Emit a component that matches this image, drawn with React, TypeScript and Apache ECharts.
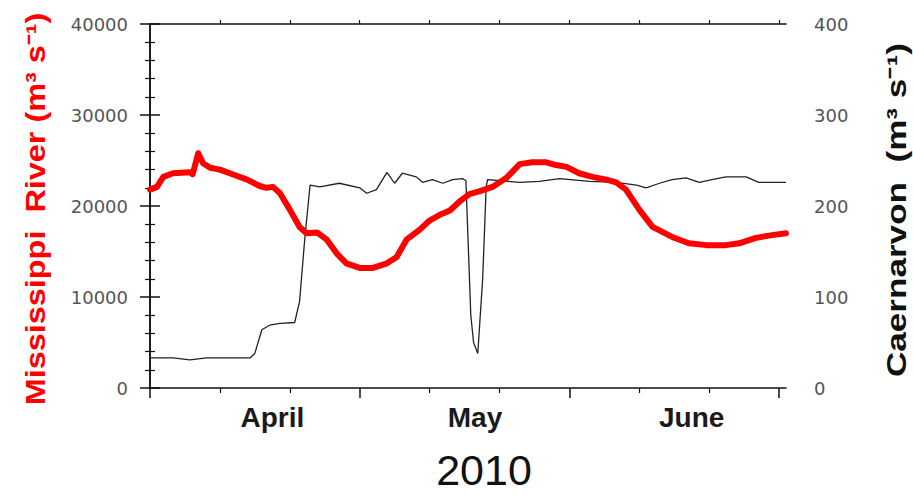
import React, { useEffect, useRef } from 'react';
import * as echarts from 'echarts';

// Mississippi River discharge (m3/s), days since 1 April 2010
const riverDays = [0, 1, 1.9, 3.3, 5.7, 6.1, 6.9, 7.6, 8.6, 10, 11.4, 13.9, 15.7, 16.7, 17.6, 18.6, 20, 21.4, 22.4, 23.9, 25.3, 26.7, 28.1, 30, 31.9, 33.9, 35.3, 36.7, 38.6, 40, 41.4, 42.9, 44.3, 45.7, 47.1, 49, 51, 52.9, 54.7, 56.7, 58.1, 59.6, 61.4, 63.3, 65.3, 66.7, 68.1, 70, 71.9, 74.7, 77.1, 79.6, 82.4, 84.3, 86.7, 89, 91];
const riverFlow = [21800, 22100, 23200, 23600, 23700, 23500, 25800, 24700, 24200, 24000, 23600, 22900, 22200, 22000, 22100, 21400, 19600, 17700, 17000, 17100, 16300, 14800, 13700, 13200, 13200, 13700, 14400, 16300, 17400, 18400, 19000, 19500, 20500, 21300, 21600, 22100, 23100, 24600, 24800, 24800, 24500, 24300, 23600, 23200, 22900, 22600, 21800, 19600, 17700, 16600, 15900, 15700, 15700, 15900, 16500, 16800, 17000];

// Caernarvon diversion discharge (m3/s)
const caernarvonDays = [0, 3.3, 5.7, 8.1, 14.3, 15, 16, 17.1, 18.6, 20.7, 21.4, 22.1, 22.9, 24.3, 27.1, 30, 31, 32.4, 33.9, 35, 36.1, 38.1, 39, 40.4, 41.9, 43.3, 44.7, 45.2, 45.9, 46.3, 46.9, 47.6, 48.1, 48.3, 52.9, 55.7, 58.6, 62.9, 66.7, 69.6, 71, 72.9, 74.7, 76.7, 78.6, 80.4, 82.4, 85.3, 87.1, 91];
const caernarvonFlow = [33, 33, 31, 33, 33, 38, 64, 69, 71, 72, 95, 160, 223, 221, 225, 220, 214, 218, 237, 225, 236, 232, 226, 229, 225, 229, 230, 228, 80, 50, 38, 120, 221, 229, 226, 227, 230, 227, 226, 223, 220, 225, 229, 231, 226, 229, 232, 232, 226, 226];

const monthNames = ['April', 'May', 'June'];
const monthLabelDays = [17.5, 46.5, 77.5];
const majorTickDays = [0, 30, 60, 90];
const minorTickDays = [10, 20, 40, 50, 70, 80];
const topTickDays = [10, 20, 30, 40, 50, 60, 70, 80, 90];
const yearLabel = '2010';
const leftTitle = 'Mississippi  River (m³ s⁻¹)';
const rightTitle = 'Caernarvon  (m³ s⁻¹)';

export default function App() {
  const ref = useRef<HTMLDivElement>(null);
  useEffect(() => {
    const chart = echarts.init(ref.current as HTMLDivElement, null, { renderer: 'svg' });
    const axisColor = '#111';
    const tickLabel = { fontSize: 18, color: '#555', fontFamily: 'DejaVu Sans', formatter: (v: number) => String(v) };
    const option: any = {
      animation: false,
      backgroundColor: '#fff',
      grid: { left: 150, right: 127, top: 24, bottom: 108 },
      xAxis: [
        {
          type: 'value', min: 0, max: 91, position: 'bottom',
          axisLine: { show: true, lineStyle: { color: axisColor, width: 1.5 } },
          axisTick: { show: true, customValues: majorTickDays, length: 10, lineStyle: { color: axisColor, width: 1.5 } },
          axisLabel: {
            show: true, customValues: monthLabelDays,
            formatter: (v: number) => { const i = monthLabelDays.indexOf(v); return i >= 0 ? monthNames[i] : ''; },
            fontSize: 28, fontWeight: 'bold', color: '#1a1a1a', fontFamily: 'Liberation Sans', margin: 15,
          },
          splitLine: { show: false },
        },
        {
          type: 'value', min: 0, max: 91, position: 'bottom',
          axisLine: { show: false },
          axisTick: { show: true, customValues: minorTickDays, length: 5, lineStyle: { color: axisColor, width: 1.2 } },
          axisLabel: { show: false },
          splitLine: { show: false },
        },
        {
          type: 'value', min: 0, max: 91, position: 'top',
          axisLine: { show: true, lineStyle: { color: axisColor, width: 1.5 } },
          axisTick: { show: true, customValues: topTickDays, length: 4, lineStyle: { color: axisColor, width: 1.2 } },
          axisLabel: { show: false },
          splitLine: { show: false },
        },
      ],
      yAxis: [
        {
          type: 'value', min: 0, max: 40000, interval: 10000, position: 'left',
          axisLine: { show: true, lineStyle: { color: axisColor, width: 1.5 } },
          axisTick: { show: true, length: 10, lineStyle: { color: axisColor, width: 1.5 } },
          minorTick: { show: true, splitNumber: 5, length: 5, lineStyle: { color: axisColor, width: 1.2 } },
          axisLabel: { ...tickLabel, margin: 22 },
          splitLine: { show: false },
        },
        {
          type: 'value', min: 0, max: 400, interval: 100, position: 'right',
          axisLine: { show: true, lineStyle: { color: axisColor, width: 1.5 } },
          axisTick: { show: true, length: 10, lineStyle: { color: axisColor, width: 1.5 } },
          minorTick: { show: true, splitNumber: 5, length: 5, lineStyle: { color: axisColor, width: 1.2 } },
          axisLabel: { ...tickLabel, margin: 28 },
          splitLine: { show: false },
        },
      ],
      series: [
        {
          name: 'Caernarvon', type: 'line', xAxisIndex: 0, yAxisIndex: 1,
          data: caernarvonDays.map((d, i) => [d, caernarvonFlow[i]]),
          showSymbol: false, symbol: 'none',
          lineStyle: { color: '#222', width: 1.3 },
          z: 2,
        },
        {
          name: 'Mississippi River', type: 'line', xAxisIndex: 0, yAxisIndex: 0,
          data: riverDays.map((d, i) => [d, riverFlow[i]]),
          showSymbol: false, symbol: 'none',
          lineStyle: { color: '#ff0000', width: 6, join: 'round', cap: 'round' },
          z: 3,
        },
      ],
      graphic: [
        {
          type: 'text', x: 35, y: 209, rotation: Math.PI / 2, scaleX: 1.2,
          style: { text: leftTitle, fontSize: 27, fontWeight: 'bold', fill: '#ff0000', fontFamily: 'Liberation Sans', align: 'center', verticalAlign: 'middle' },
        },
        {
          type: 'text', x: 897, y: 210, rotation: Math.PI / 2, scaleX: 1.3,
          style: { text: rightTitle, fontSize: 27, fontWeight: 'bold', fill: '#111', fontFamily: 'Liberation Sans', align: 'center', verticalAlign: 'middle' },
        },
        {
          type: 'text', x: 484, y: 470,
          style: { text: yearLabel, fontSize: 43, fill: '#111', fontFamily: 'Liberation Sans', align: 'center', verticalAlign: 'middle' },
        },
      ],
    };
    chart.setOption(option);
    return () => chart.dispose();
  }, []);
  return <div ref={ref} style={{ position: 'fixed', left: 0, top: 0, width: 913, height: 496, background: '#fff' }} />;
}
